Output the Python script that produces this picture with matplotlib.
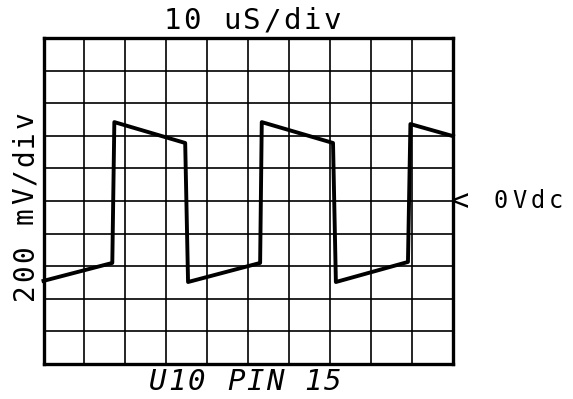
import matplotlib
matplotlib.use("Agg")
import matplotlib.pyplot as plt
import numpy as np

# scope settings
time_per_div = 10      # us
volt_per_div = 200     # mV
n_div_x = 10
n_div_y = 10

# U10 pin 15 trace, time in us, voltage in mV (0 V at centre line)
t_us = [0.0, 16.8, 17.3, 34.6, 35.3, 52.9, 53.3, 70.7, 71.4, 89.0, 89.6, 100.0]
v_mv = [-490, -380, 484, 356, -497, -380, 484, 356, -497, -374, 472, 398]

title_txt = "10 uS/div"
ylabel_txt = "200 mV/div"
xlabel_txt = "U10 PIN 15"
ref_txt = "0Vdc"

W, H = 573, 399
fig = plt.figure(figsize=(W / 100, H / 100), dpi=100)
ax = fig.add_axes([43.5 / W, 1 - 364 / H, (453 - 43.5) / W, (364 - 38) / H])

x_max = time_per_div * n_div_x
y_half = volt_per_div * n_div_y / 2
ax.set_xlim(0, x_max)
ax.set_ylim(-y_half, y_half)
ax.set_xticks(np.arange(0, x_max + 1, time_per_div))
ax.set_yticks(np.arange(-y_half, y_half + 1, volt_per_div))
ax.tick_params(length=0, labelbottom=False, labelleft=False)
ax.grid(True, color="black", linewidth=1.2)
for sp in ax.spines.values():
    sp.set_linewidth(2.4)

ax.plot(t_us, v_mv, color="black", linewidth=2.8, solid_joinstyle="round",
        clip_on=False)


def spaced(s, x0, y0, step, size, vertical=False, **kw):
    # plotter style lettering: every character on a fixed pitch (pixels)
    for i, ch in enumerate(s):
        if ch == " ":
            continue
        if vertical:
            x, y, rot = x0, y0 - i * step, 90
        else:
            x, y, rot = x0 + i * step, y0, 0
        fig.text(x / W, 1 - y / H, ch, ha="center", va="center", rotation=rot,
                 fontsize=size, family="DejaVu Sans Mono", **kw)


spaced(title_txt, 172, 21, 20, 21)
spaced(xlabel_txt, 158, 382, 19.4, 21, style="italic")
spaced(ylabel_txt, 25, 292, 19.2, 20, vertical=True)
spaced("<", 460, 202, 1, 22)
spaced(ref_txt, 501, 201, 18.3, 17)

fig.savefig("out.png", dpi=100, facecolor="white")
